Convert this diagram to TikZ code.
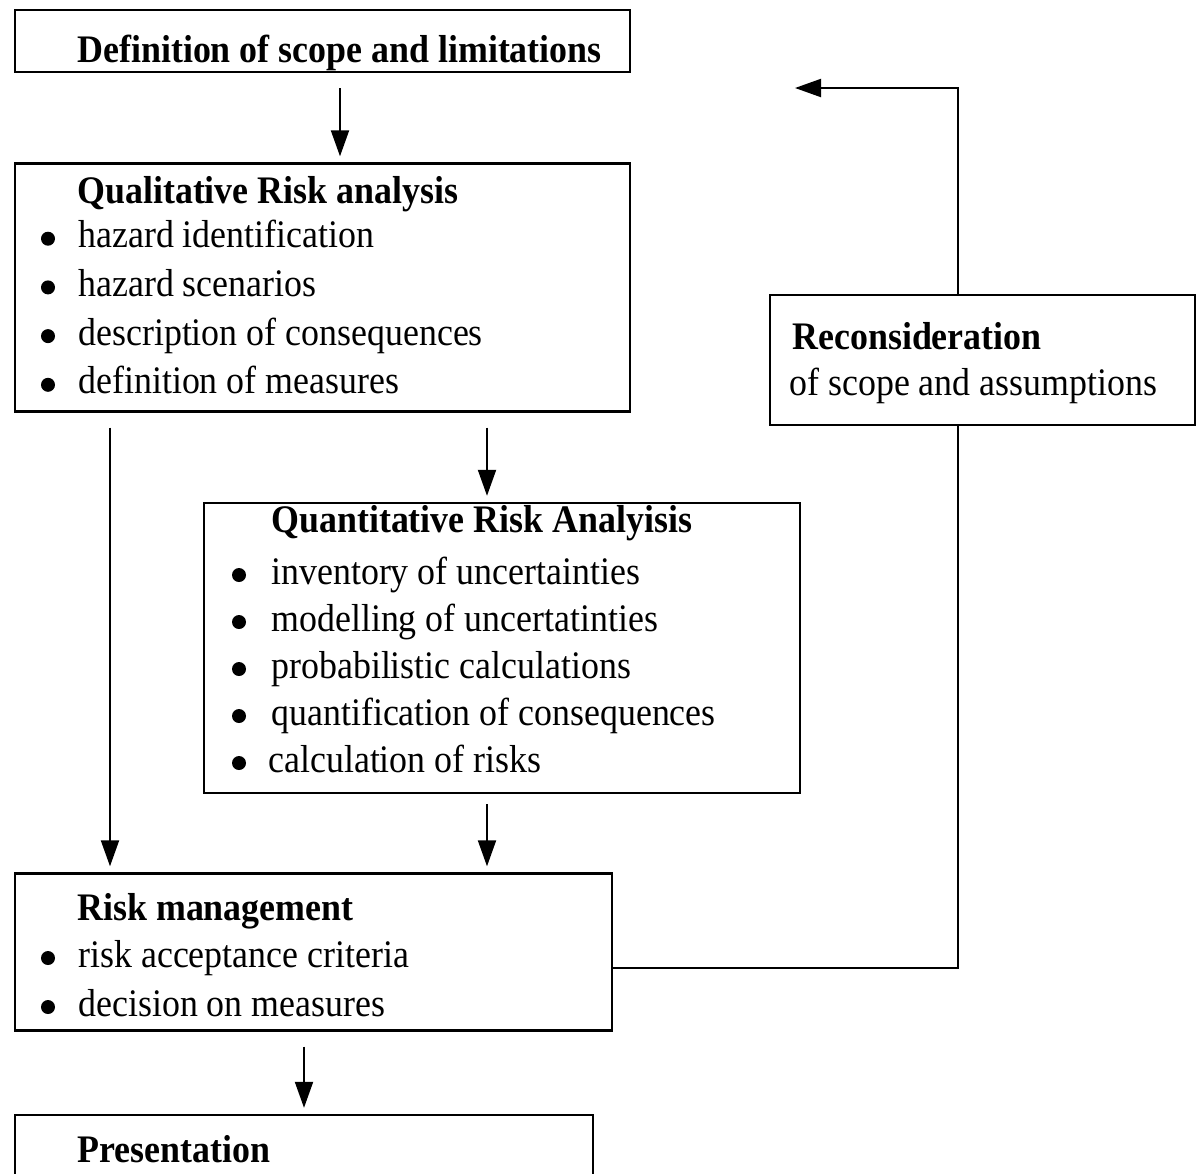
\documentclass[tikz,border=0pt]{standalone}
\usepackage{fontspec}
\setmainfont{Liberation Serif}[FakeStretch=0.92]
\usetikzlibrary{positioning,arrows.meta}

\newcommand\boxfont{\fontsize{19.5}{22}\selectfont}

\begin{document}
\begin{tikzpicture}[x=0.5pt,y=-0.5pt,
	box/.style={draw, line width=1.2pt, inner sep=0pt},
	head/.style={anchor=base west, inner sep=0pt, font=\boxfont\bfseries},
	txt/.style={anchor=base west, inner sep=0pt, font=\boxfont},
	arr/.style={-{Triangle[length=13pt,width=9pt]}, line width=1pt, shorten <=7.5pt, shorten >=3pt},
	link/.style={line width=1pt}]
	\pgfmathsetmacro{\BulletRadius}{3.5}
	\useasboundingbox (0,0) rectangle (1198,1173);
	\clip (0,0) rectangle (1198,1173);
	% columns of the connectors
	\coordinate (colA) at (110,0);
	\coordinate (colB) at (340,0);
	\coordinate (colC) at (487,0);
	\coordinate (colD) at (304,0);
	\coordinate (colE) at (958,0);
	\coordinate (back) at (795,88);
	% BOXES
	\node[box, minimum width=307.5pt, minimum height=31pt] (scope) at (322.5,41) {};
	\node[box, minimum width=307.5pt, minimum height=124pt] (qual) at (322.5,287.5) {};
	\node[box, minimum width=298pt, minimum height=145pt] (quant) at (502,648) {};
	\node[box, minimum width=298.5pt, minimum height=78.5pt] (manage) at (313.5,952) {};
	\node[box, minimum width=289pt, minimum height=42.5pt] (present) at (304,1157.5) {};
	\node[box, minimum width=212.5pt, minimum height=65pt] (recon) at (982.5,360) {};
	% TEXTS
	\node[head] (scopeT) at (77,62) {Definition of scope and limitations};
	\node[head] (qualT) at (77,203) {Qualitative Risk analysis};
	\foreach \t [count=\i] in {hazard identification, hazard scenarios,
		description of consequences, definition of measures}
	{
		\node[txt] (qual\i) at (78,{199+48.7*\i}) {\t};
		\fill ([xshift=-15pt,yshift=4.5pt]qual\i.base west) circle (\BulletRadius pt);
	}
	\node[head] (quantT) at (271,532) {Quantitative Risk Analyisis};
	\foreach \t/\dx [count=\i] in {inventory of uncertainties/0, modelling of uncertatinties/0,
		probabilistic calculations/0, quantification of consequences/0, calculation of risks/-3}
	{
		\node[txt] (quant\i) at ({271+\dx},{537+47*\i}) {\t};
		\fill ([xshift={-16pt-\dx*0.5pt},yshift=4.5pt]quant\i.base west) circle (\BulletRadius pt);
	}
	\node[head] (manageT) at (77,920) {Risk management};
	\node[txt] (manage1) at (78,967) {risk acceptance criteria};
	\node[txt] (manage2) at (78,1016) {decision on measures};
	\fill ([xshift=-15pt,yshift=4.5pt]manage1.base west) circle (\BulletRadius pt);
	\fill ([xshift=-15pt,yshift=4.5pt]manage2.base west) circle (\BulletRadius pt);
	\node[head] (presentT) at (77,1162) {Presentation};
	\node[head] (reconT) at (792,349) {Reconsideration};
	\node[txt] (recon1) at (789,395) {of scope and assumptions};
	% CONNECTORS
	\draw[arr] (scope.south -| colB) -- (qual.north -| colB);
	\draw[arr] (qual.south -| colA) -- (manage.north -| colA);
	\draw[arr] (qual.south -| colC) -- (quant.north -| colC);
	\draw[arr, shorten <=5pt] (quant.south -| colC) -- (manage.north -| colC);
	\draw[arr] (manage.south -| colD) -- (present.north -| colD);
	\draw[link] ([yshift=-8pt]manage.east) -| (recon.south -| colE);
	\draw[arr, shorten <=0pt, shorten >=0pt] (recon.north -| colE) |- (back);
\end{tikzpicture}
\end{document}
